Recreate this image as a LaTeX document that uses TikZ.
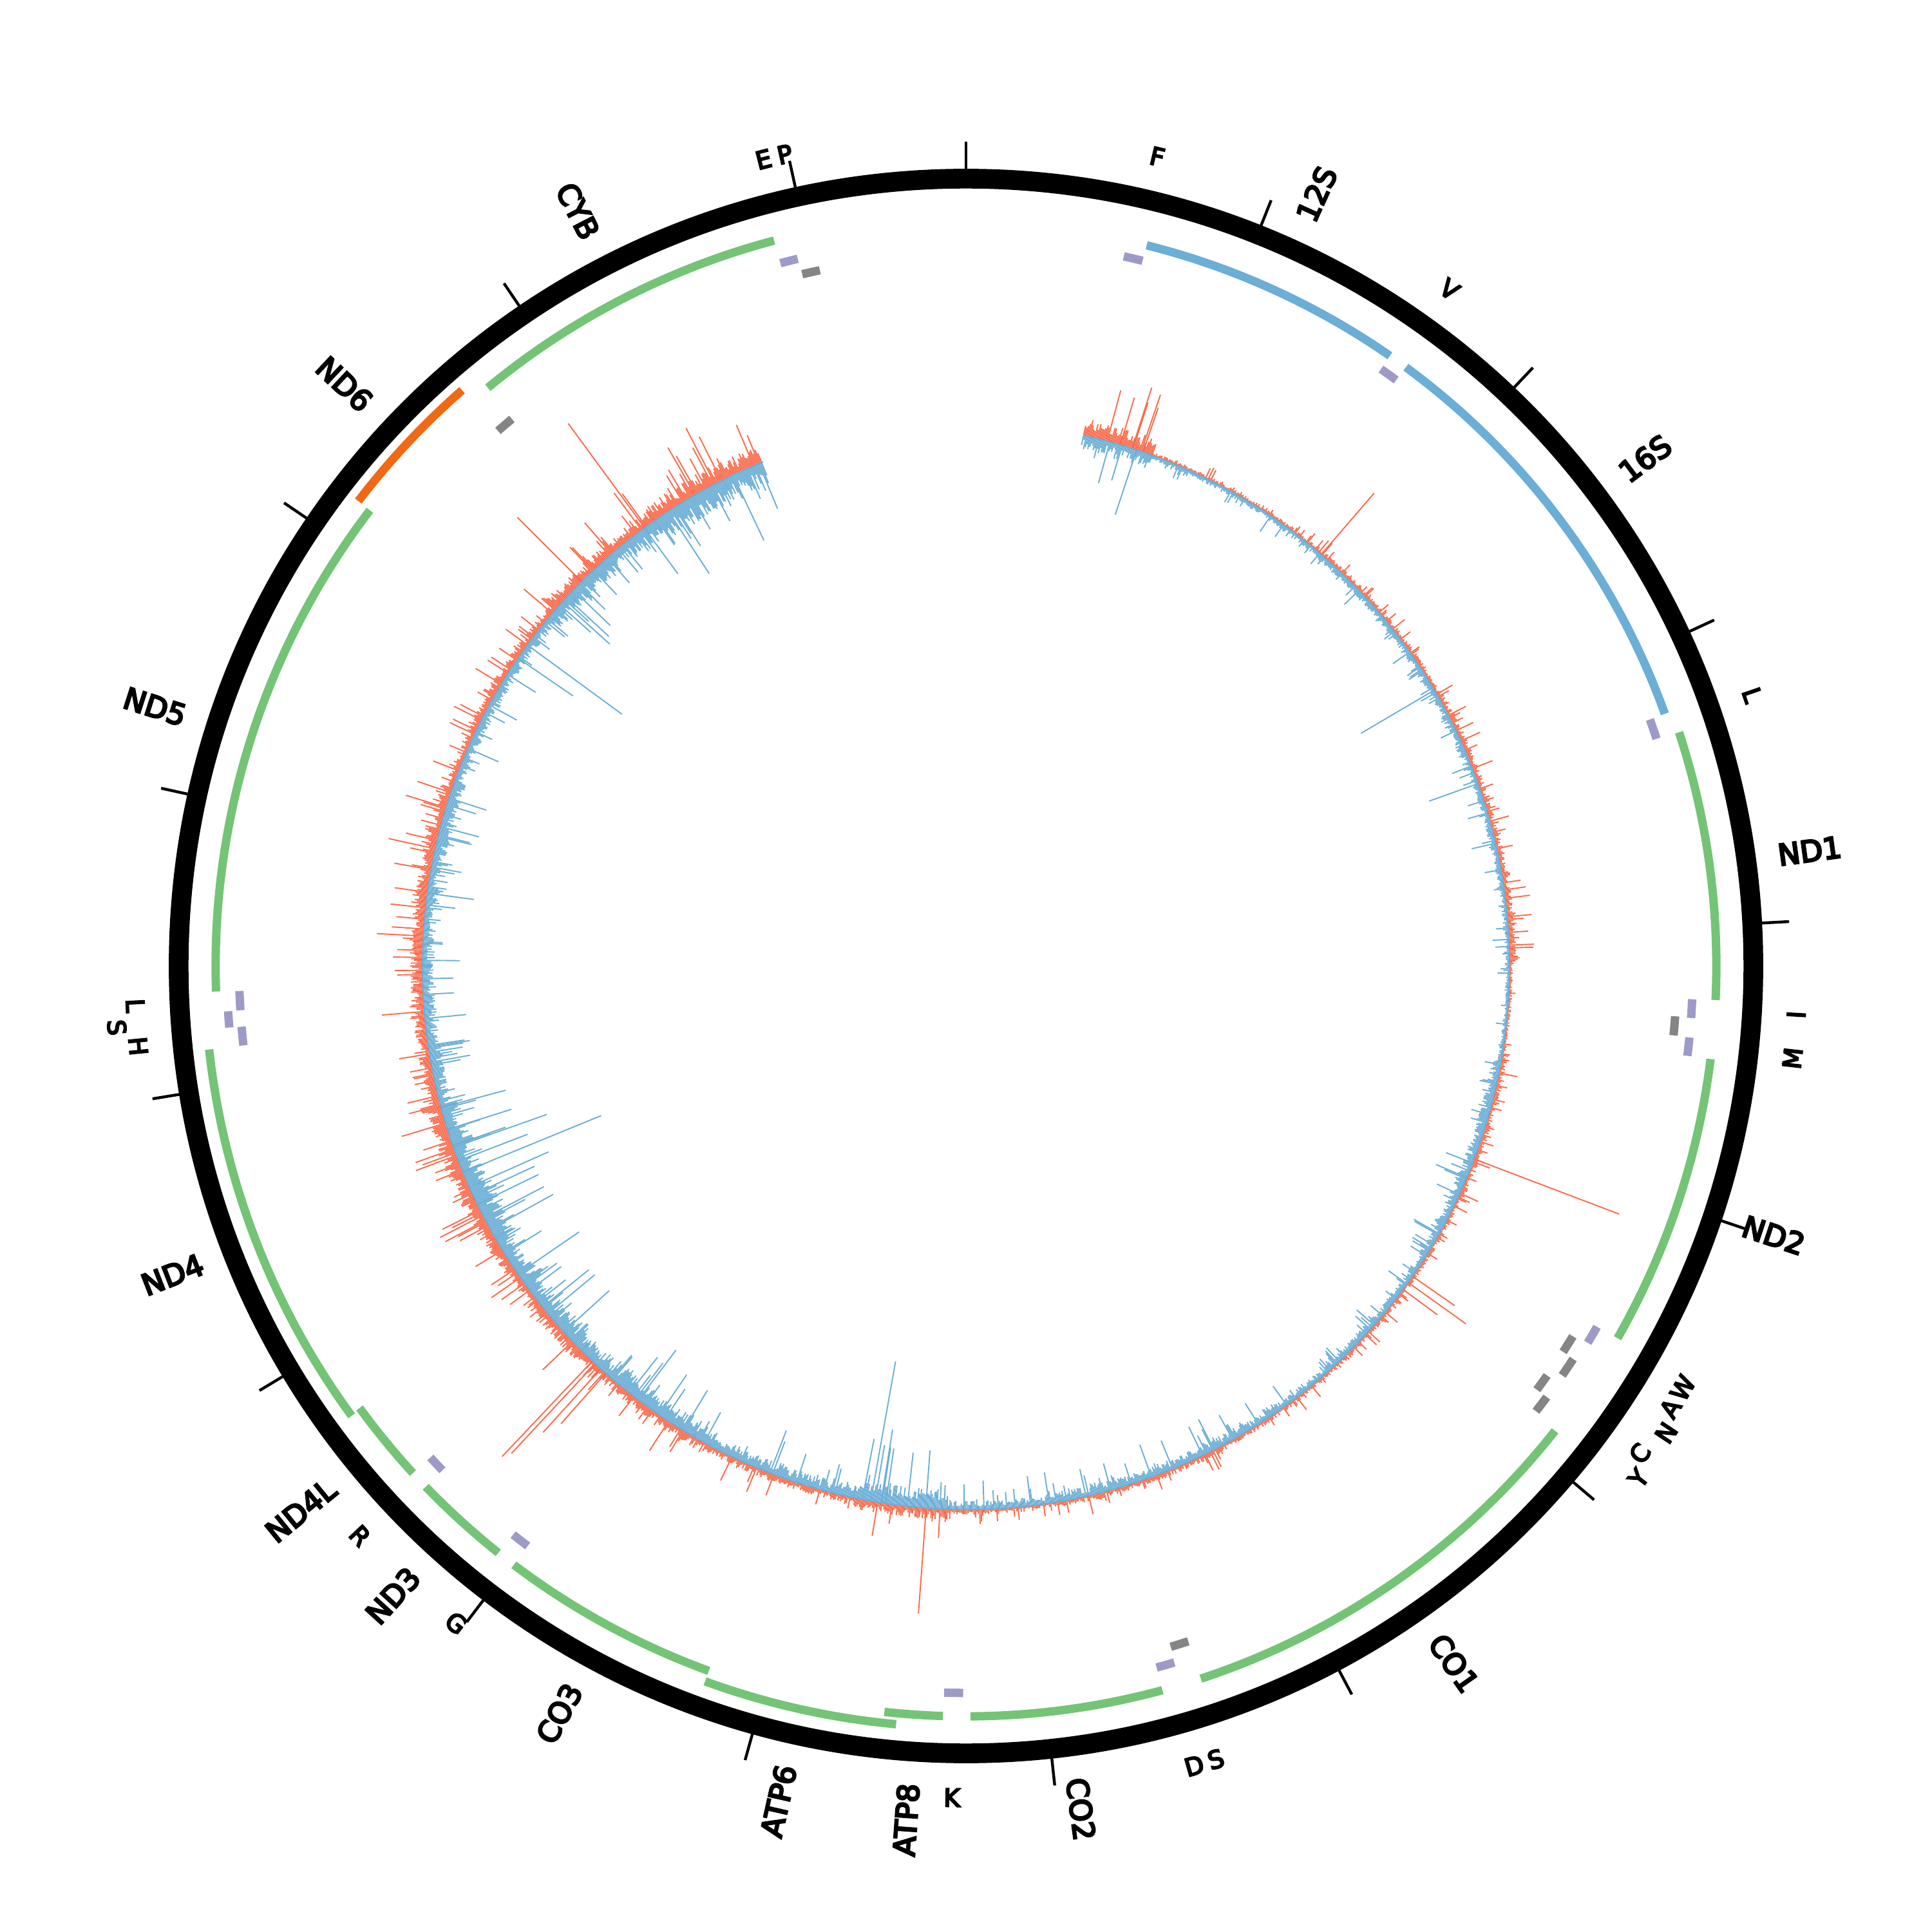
\documentclass[tikz,border=0pt]{standalone}
\usepackage{fontspec}
\setmainfont{DejaVu Sans}
\newfontfamily\labfont{DejaVu Sans}[FakeBold=6]
\definecolor{cpur}{HTML}{9E9AC8}
\definecolor{cgry}{HTML}{858585}
\definecolor{cgrn}{HTML}{74C476}
\definecolor{crrna}{HTML}{6BAED6}
\definecolor{corg}{HTML}{F16913}
\definecolor{ctred}{HTML}{FB6A4A}
\definecolor{ctblue}{HTML}{6BAED6}
\tikzset{
  featbar/.style={line width=6.8pt},
  redtrack/.style={ctred, line width=1pt},
  bluetrack/.style={ctblue, line width=1pt},
  ringline/.style={line width=16pt, black},
  tickline/.style={line width=2.3pt, black},
  biglab/.style={inner sep=0pt, font=\labfont\fontsize{24}{28}\selectfont},
  smalllab/.style={inner sep=0pt, font=\labfont\fontsize{20}{24}\selectfont}
}
\newcommand\gfeat[4]{%
  \pgfmathsetmacro\gfa{90-#1*21.727322}%
  \pgfmathsetmacro\gfb{90-#2*21.727322}%
  \draw[featbar,#4] (\gfa:#3) arc[start angle=\gfa, end angle=\gfb, radius=#3];}
\begin{document}
\begin{tikzpicture}[x=1pt,y=1pt]
\useasboundingbox (-784,-784) rectangle (784,784);
% outer ring
\draw[ringline] (0,0) circle[radius=639];
\foreach \k in {0,...,16}{
  \pgfmathsetmacro\ta{90-\k*21.727322}
  \draw[tickline] (\ta:646) -- (\ta:669);
}
% features
\gfeat{0.577}{0.647}{590}{cpur}
\gfeat{0.648}{1.601}{603}{crrna}
\gfeat{1.602}{1.670}{590}{cpur}
\gfeat{1.671}{3.229}{603}{crrna}
\gfeat{3.230}{3.304}{590}{cpur}
\gfeat{3.307}{4.262}{609}{cgrn}
\gfeat{4.263}{4.331}{590}{cpur}
\gfeat{4.329}{4.400}{577}{cgry}
\gfeat{4.402}{4.469}{590}{cpur}
\gfeat{4.470}{5.511}{609}{cgrn}
\gfeat{5.512}{5.579}{590}{cpur}
\gfeat{5.587}{5.655}{577}{cgry}
\gfeat{5.657}{5.729}{587}{cgry}
\gfeat{5.761}{5.826}{577}{cgry}
\gfeat{5.826}{5.891}{587}{cgry}
\gfeat{5.904}{7.445}{609}{cgrn}
\gfeat{7.446}{7.514}{577}{cgry}
\gfeat{7.518}{7.585}{590}{cpur}
\gfeat{7.586}{8.269}{609}{cgrn}
\gfeat{8.295}{8.364}{590}{cpur}
\gfeat{8.366}{8.572}{609}{cgrn}
\gfeat{8.527}{9.207}{618}{cgrn}
\gfeat{9.207}{9.990}{609}{cgrn}
\gfeat{9.991}{10.058}{590}{cpur}
\gfeat{10.059}{10.404}{609}{cgrn}
\gfeat{10.405}{10.469}{590}{cpur}
\gfeat{10.470}{10.766}{609}{cgrn}
\gfeat{10.760}{12.137}{618}{cgrn}
\gfeat{12.138}{12.206}{590}{cpur}
\gfeat{12.207}{12.265}{600}{cpur}
\gfeat{12.266}{12.336}{590}{cpur}
\gfeat{12.337}{14.148}{609}{cgrn}
\gfeat{14.149}{14.673}{621}{corg}
\gfeat{14.674}{14.742}{577}{cgry}
\gfeat{14.747}{15.887}{609}{cgrn}
\gfeat{15.888}{15.953}{590}{cpur}
\gfeat{15.956}{16.023}{577}{cgry}
% big labels
\foreach \n/\p in {12S/1.1245, 16S/2.450, ND1/3.7845, ND2/4.9905, CO1/6.6745, CO2/7.9275, ATP8/8.469, ATP6/8.867, CO3/9.5985, ND3/10.2315, ND4L/10.618, ND4/11.4485, ND5/13.2425, ND6/14.411, CYB/15.317}{
  \pgfmathsetmacro\t{\p*21.727322}
  \ifdim\t pt<180pt
    \node[biglab, anchor=west, rotate={90-\t}, name=b\n] at ({90-\t}:665) {\n};
  \else
    \node[biglab, anchor=east, rotate={270-\t}, name=b\n] at ({90-\t}:665) {\n};
  \fi
}
% small labels
\foreach \n/\p/\r [count=\i] in {F/0.612/675, V/1.636/675, L/3.267/675, I/4.297/675, M/4.4355/675, W/5.5455/675, A/5.621/675, N/5.693/683, C/5.7935/675, Y/5.8585/686, S/7.480/675, D/7.5515/675, K/8.3295/675, G/10.0245/675, R/10.437/675, H/12.172/675, S/12.236/691, L/12.301/675, E/15.9205/675, P/15.9895/675}{
  \pgfmathsetmacro\t{\p*21.727322}
  \pgfmathsetmacro\rot{-\t}
  \ifdim\t pt>90pt \ifdim\t pt<270pt \pgfmathsetmacro\rot{180-\t}\fi\fi
  \node[smalllab, rotate=\rot, name=s\i] at ({90-\t}:\r) {\n};
}
% coverage track
\pgfmathsetseed{2024}
\foreach \ta/\tb/\ar/\ab in {12.5/20/14/10, 20/40/3/4, 40/60/4/5, 60/80/5/5, 80/90/7/4, 90/100/3/3, 100/115/5/8, 115/135/4/6, 135/150/4/6, 150/170/5/8, 170/182/4/7, 182/192/9/16, 192/210/6/10, 210/225/8/14, 225/240/10/16, 240/255/13/18, 255/270/10/10, 270/290/10/10, 290/310/7/8, 310/325/10/14, 325/338/14/20}{
  \pgfmathsetmacro\tn{\ta+0.15}
  \foreach \t in {\ta,\tn,...,\tb}{
    \pgfmathsetmacro\lr{\ar*(0.3+0.7*rnd)+\ar*3*rnd^14}
    \pgfmathsetmacro\lb{\ab*(0.3+0.7*rnd)+\ab*3*rnd^14}
    \draw[redtrack] ({90-\t}:441) -- ({90-\t}:{441+\lr});
    \draw[bluetrack] ({90-\t}:441) -- ({90-\t}:{441-\lb});
  }
}
\foreach \t/\l in {323.75/105, 315/74, 110.8/126, 125.6/58, 124.8/42, 126.5/35, 184.2/86, 223/100, 223.4/107, 222.2/70, 221.5/55, 17.8/52, 16.5/40, 19/38, 40.8/66}{
  \draw[redtrack] ({90-\t}:441) -- ({90-\t}:{441+\l});
}
\foreach \t/\l in {59.5/69, 70.4/42, 190.1/115, 189/60, 188.5/45, 191/50, 247.7/121, 246/70, 249/60, 250.5/80, 244/55, 254.9/54, 252.5/54, 250.7/45, 306.2/95, 304.5/54, 277.7/38, 18.3/55, 112.9/27, 323.7/46}{
  \draw[bluetrack] ({90-\t}:441) -- ({90-\t}:{441-\l});
}
\draw[bluetrack] ({90-12.5}:441) arc[start angle={90-12.5}, end angle={90-338.1}, radius=441];
\end{tikzpicture}
\end{document}
